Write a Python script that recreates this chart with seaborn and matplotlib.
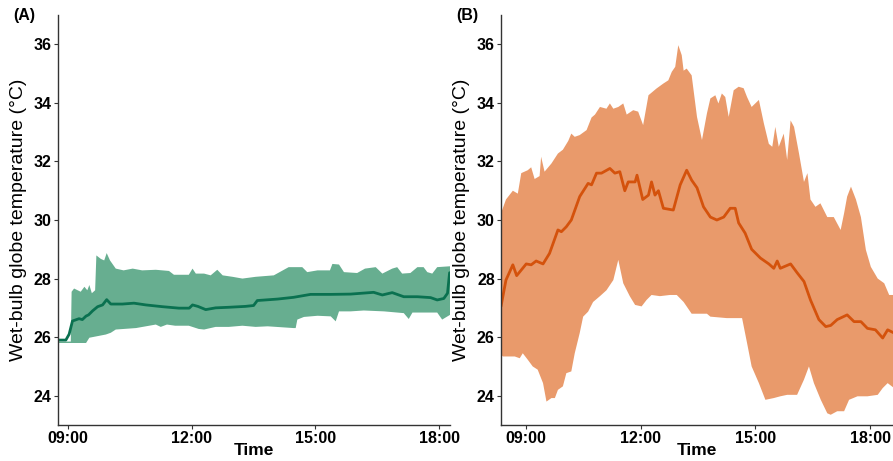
import numpy as np
import pandas as pd
import matplotlib
matplotlib.use("Agg")
import matplotlib.pyplot as plt
import seaborn as sns

# ---------------- data (time in decimal hours) ----------------
tick_pos = [9, 12, 15, 18]
tick_labels = ["09:00", "12:00", "15:00", "18:00"]
y_ticks = [24, 26, 28, 30, 32, 34, 36]

# Panel A
a_mean_t = [8.76, 8.95, 9.03, 9.11, 9.27, 9.35, 9.44, 9.5, 9.6, 9.72, 9.84, 9.94, 10.04, 10.32,
            10.6, 10.89, 11.29, 11.69, 11.94, 12.02, 12.15, 12.34, 12.58, 12.9, 13.3, 13.5, 13.59,
            14.08, 14.47, 14.88, 15.37, 15.85, 16.41, 16.62, 16.86, 17.14, 17.47, 17.79, 17.95,
            18.11, 18.2, 18.25]
a_mean = [25.9, 25.9, 26.1, 26.55, 26.63, 26.6, 26.72, 26.76, 26.9, 27.04, 27.1, 27.28, 27.13, 27.13,
          27.16, 27.1, 27.04, 26.99, 26.99, 27.1, 27.05, 26.94, 27.0, 27.02, 27.05, 27.08, 27.25,
          27.3, 27.36, 27.46, 27.46, 27.47, 27.53, 27.44, 27.52, 27.38, 27.38, 27.35, 27.27,
          27.32, 27.5, 28.2]
a_up_t = [8.76, 9.07, 9.09, 9.15, 9.31, 9.4, 9.47, 9.52, 9.58, 9.66, 9.69, 9.8, 9.88, 9.94, 10.02,
          10.16, 10.35, 10.57, 10.8, 11.13, 11.45, 11.57, 11.93, 12.02, 12.1, 12.3, 12.46, 12.62,
          12.75, 12.99, 13.23, 13.55, 13.99, 14.35, 14.68, 14.8, 15.05, 15.35, 15.41, 15.57, 15.69,
          16.01, 16.2, 16.46, 16.62, 16.86, 16.98, 17.1, 17.3, 17.47, 17.62, 17.71, 17.83, 17.95, 18.26]
a_up = [25.85, 25.85, 27.55, 27.66, 27.55, 27.72, 27.6, 27.78, 27.5, 27.6, 28.79, 28.67, 28.62, 28.87,
        28.62, 28.34, 28.28, 28.34, 28.28, 28.3, 28.26, 28.13, 28.13, 28.34, 28.17, 28.17, 28.11, 28.3,
        28.11, 28.06, 28.0, 28.06, 28.11, 28.39, 28.39, 28.22, 28.28, 28.28, 28.5, 28.48, 28.22,
        28.19, 28.34, 28.39, 28.17, 28.34, 28.39, 28.17, 28.19, 28.39, 28.39, 28.22, 28.17, 28.39, 28.42]
a_lo_t = [8.76, 9.44, 9.52, 9.92, 10.04, 10.16, 10.65, 10.89, 11.13, 11.25, 11.4, 11.6, 11.93, 12.17,
          12.3, 12.58, 12.9, 13.23, 13.55, 13.84, 14.47, 14.52, 14.56, 14.72, 15.05, 15.37, 15.49,
          15.57, 15.85, 16.17, 16.66, 17.14, 17.26, 17.35, 17.95, 18.07, 18.26]
a_lo = [25.8, 25.8, 25.98, 26.09, 26.15, 26.26, 26.31, 26.37, 26.43, 26.35, 26.43, 26.39, 26.39, 26.28,
        26.26, 26.35, 26.35, 26.39, 26.35, 26.37, 26.31, 26.31, 26.6, 26.69, 26.73, 26.71, 26.54,
        26.88, 26.88, 26.91, 26.88, 26.82, 26.62, 26.84, 26.84, 26.6, 26.76]

# Panel B
b_mean_t = [8.34, 8.47, 8.65, 8.75, 9.0, 9.13, 9.26, 9.44, 9.61, 9.83, 9.92, 10.05, 10.18, 10.4,
            10.62, 10.71, 10.84, 10.97, 11.19, 11.32, 11.45, 11.58, 11.67, 11.85, 11.9, 12.05, 12.2,
            12.28, 12.37, 12.46, 12.59, 12.85, 13.03, 13.2, 13.33, 13.47, 13.64, 13.82, 13.99, 14.17,
            14.34, 14.47, 14.56, 14.73, 14.9, 15.13, 15.35, 15.48, 15.57, 15.65, 15.92, 16.09, 16.27,
            16.44, 16.66, 16.84, 16.97, 17.14, 17.4, 17.58, 17.76, 17.93, 18.14, 18.33, 18.46, 18.63]
b_mean = [27.05, 27.95, 28.47, 28.1, 28.5, 28.47, 28.6, 28.5, 28.86, 29.66, 29.6, 29.77, 30.0, 30.8,
          31.25, 31.2, 31.6, 31.6, 31.76, 31.6, 31.65, 31.0, 31.3, 31.3, 31.53, 30.7, 30.85,
          31.3, 30.85, 31.0, 30.4, 30.34, 31.2, 31.7, 31.36, 31.1, 30.45, 30.1, 30.0, 30.1,
          30.4, 30.4, 29.9, 29.55, 29.0, 28.7, 28.5, 28.35, 28.6, 28.35, 28.5, 28.2, 27.9,
          27.27, 26.6, 26.36, 26.4, 26.6, 26.76, 26.53, 26.53, 26.3, 26.25, 25.97, 26.25, 26.14]
b_up_t = [8.34, 8.47, 8.65, 8.78, 8.87, 9.04, 9.13, 9.22, 9.35, 9.39, 9.48, 9.66, 9.83, 9.96, 10.1,
          10.18, 10.27, 10.4, 10.58, 10.71, 10.8, 10.93, 11.1, 11.19, 11.28, 11.41, 11.54, 11.63,
          11.8, 11.93, 12.06, 12.2, 12.41, 12.59, 12.72, 12.81, 12.9, 12.98, 13.07, 13.12, 13.2,
          13.33, 13.47, 13.6, 13.73, 13.82, 13.95, 14.03, 14.12, 14.21, 14.3, 14.43, 14.56, 14.69,
          14.78, 14.9, 15.09, 15.22, 15.35, 15.44, 15.52, 15.61, 15.74, 15.83, 15.92, 16.01, 16.14,
          16.27, 16.36, 16.44, 16.57, 16.7, 16.88, 17.05, 17.23, 17.32, 17.4, 17.5, 17.63, 17.76,
          17.89, 18.02, 18.2, 18.37, 18.5, 18.63]
b_up = [30.23, 30.7, 31.0, 30.9, 31.6, 31.7, 31.8, 31.4, 31.5, 32.16, 31.65, 31.93, 32.27, 32.4, 32.7,
        32.95, 32.84, 32.9, 33.07, 33.5, 33.6, 33.86, 33.8, 33.98, 33.8, 33.86, 33.98, 33.6,
        33.75, 33.7, 33.24, 34.26, 34.49, 34.66, 34.77, 35.06, 35.23, 35.97, 35.63, 35.1, 35.17,
        34.94, 33.52, 32.73, 33.64, 34.15, 34.26, 33.98, 34.32, 34.2, 33.52, 34.43, 34.55, 34.5,
        34.2, 33.86, 34.1, 33.3, 32.6, 32.5, 33.18, 32.5, 32.95, 32.05, 33.4, 33.18, 32.27,
        31.3, 31.6, 30.7, 30.45, 30.57, 30.1, 30.1, 29.66, 30.23, 30.8, 31.14, 30.7, 30.1,
        28.98, 28.4, 28.0, 27.84, 27.44, 27.44]
b_lo_t = [8.34, 8.39, 8.7, 8.83, 8.91, 9.04, 9.17, 9.3, 9.44, 9.53, 9.66, 9.75, 9.83, 9.96, 10.05,
          10.18, 10.27, 10.4, 10.49, 10.62, 10.75, 10.93, 11.1, 11.28, 11.41, 11.54, 11.71, 11.85,
          12.02, 12.15, 12.28, 12.5, 12.76, 12.94, 13.12, 13.33, 13.73, 13.82, 14.25, 14.65, 14.78,
          14.9, 15.09, 15.26, 15.48, 15.65, 15.83, 16.09, 16.27, 16.4, 16.53, 16.71, 16.88, 16.97,
          17.14, 17.32, 17.45, 17.67, 17.93, 18.2, 18.33, 18.46, 18.63]
b_lo = [25.4, 25.34, 25.34, 25.28, 25.45, 25.23, 25.0, 24.89, 24.43, 23.8, 23.92, 23.92, 24.2, 24.32,
        24.77, 24.83, 25.45, 26.14, 26.7, 26.87, 27.2, 27.4, 27.6, 27.95, 28.64, 27.84, 27.4, 27.1,
        27.05, 27.27, 27.44, 27.4, 27.44, 27.44, 27.2, 26.8, 26.8, 26.7, 26.65, 26.65, 25.8,
        25.0, 24.43, 23.86, 23.92, 23.98, 24.03, 24.03, 24.55, 25.0, 24.43, 23.86, 23.4, 23.35,
        23.47, 23.47, 23.86, 23.98, 23.98, 24.03, 24.26, 24.43, 24.26]

# ---------------- style ----------------
sns.set_style("ticks")
plt.rcParams["font.family"] = ["Liberation Sans", "DejaVu Sans"]
plt.rcParams["text.color"] = "black"
plt.rcParams["axes.labelcolor"] = "black"

W, H = 893, 461
fig = plt.figure(figsize=(W / 100, H / 100), dpi=100)

panels = [
    dict(rect=[58 / W, 1 - 425 / H, 392 / W, 410 / H], xlim=(8.76, 18.26), label="(A)",
         mt=a_mean_t, m=a_mean, ut=a_up_t, u=a_up, lt=a_lo_t, l=a_lo,
         fill="#67AE90", line="#0A7150"),
    dict(rect=[501 / W, 1 - 425 / H, 392 / W, 410 / H], xlim=(8.34, 18.6), label="(B)",
         mt=b_mean_t, m=b_mean, ut=b_up_t, u=b_up, lt=b_lo_t, l=b_lo,
         fill="#E99A6B", line="#D4520C"),
]

for p in panels:
    ax = fig.add_axes(p["rect"])
    poly_x = list(p["ut"]) + list(p["lt"])[::-1]
    poly_y = list(p["u"]) + list(p["l"])[::-1]
    ax.fill(poly_x, poly_y, color=p["fill"], lw=0, zorder=1)
    df = pd.DataFrame({"t": p["mt"], "v": p["m"]})
    sns.lineplot(data=df, x="t", y="v", ax=ax, color=p["line"], lw=2.0, zorder=2)
    ax.set_xlim(*p["xlim"])
    ax.set_ylim(23, 37)
    ax.set_xticks(tick_pos)
    ax.set_xticklabels(tick_labels, fontsize=11.5, fontweight="bold")
    ax.set_yticks(y_ticks)
    ax.set_yticklabels([str(v) for v in y_ticks], fontsize=11.5, fontweight="bold")
    ax.tick_params(axis="both", length=3, width=0.8, color="#333333", pad=1.5, labelcolor="black")
    ax.set_xlabel("Time", fontsize=12.5, fontweight="bold", labelpad=-2, color="black")
    ax.set_ylabel("Wet-bulb globe temperature (°C)", fontsize=14, labelpad=5, color="black")
    for s in ["top", "right"]:
        ax.spines[s].set_visible(False)
    for s in ["left", "bottom"]:
        ax.spines[s].set_color("#333333")
        ax.spines[s].set_linewidth(1.0)
    ax.text(-0.115, 1.0, p["label"], transform=ax.transAxes, fontsize=11.5,
            fontweight="bold", ha="left", va="center", color="black")

fig.savefig("out.png", dpi=100)
